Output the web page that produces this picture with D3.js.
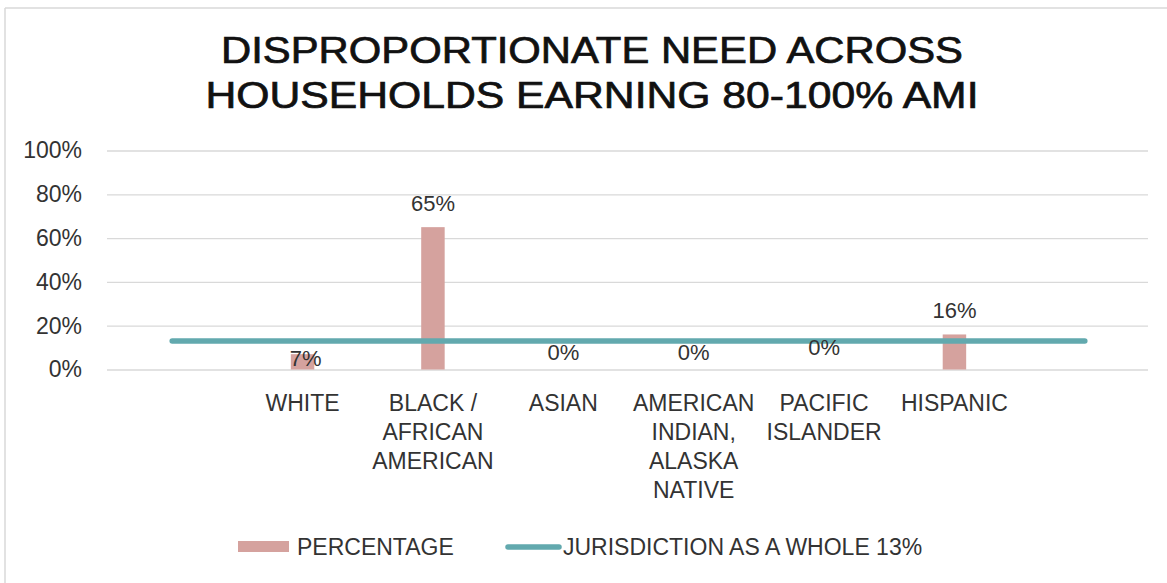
<!DOCTYPE html>
<html>
<head>
<meta charset="utf-8">
<script src="https://cdn.jsdelivr.net/npm/d3@7"></script>
<style>
  body { margin: 0; background: #fff; }
  svg { display: block; font-family: "Liberation Sans", Arial, sans-serif; }
</style>
</head>
<body>
<div id="chart"></div>
<script>
// chart data
const categories = ["WHITE", "BLACK / AFRICAN AMERICAN", "ASIAN", "AMERICAN INDIAN, ALASKA NATIVE", "PACIFIC ISLANDER", "HISPANIC"];
const categoryLines = [["WHITE"], ["BLACK /", "AFRICAN", "AMERICAN"], ["ASIAN"], ["AMERICAN", "INDIAN,", "ALASKA", "NATIVE"], ["PACIFIC", "ISLANDER"], ["HISPANIC"]];
const percentage = [0.07, 0.65, 0, 0, 0, 0.16];
const jurisdictionWhole = 0.13;
const yTicks = [0, 0.2, 0.4, 0.6, 0.8, 1];
const titleLines = ["DISPROPORTIONATE NEED ACROSS", "HOUSEHOLDS EARNING 80-100% AMI"];
const legendLabels = ["PERCENTAGE", "JURISDICTION AS A WHOLE 13%"];

const W = 1167, H = 583;
const barColor = "#d5a29e", lineColor = "#62a9ae", textColor = "#333";

// data labels were nudged around the line in the original
const labelDy = [12, -16, -9.5, -9.5, -14.5, -16];

let svg = d3.select("#chart")
    .append("svg")
    .attr("width", W)
    .attr("height", H);

// frame (only top & left edges visible)
svg.append("line").attr("x1", 5).attr("x2", W).attr("y1", 8).attr("y2", 8)
    .attr("stroke", "#d9d9d9").attr("stroke-width", 1.5);
svg.append("line").attr("x1", 5).attr("x2", 5).attr("y1", 8).attr("y2", H)
    .attr("stroke", "#d9d9d9").attr("stroke-width", 1.5);

// title
let titleWidths = [742, 773];
svg.selectAll(".title")
    .data(titleLines)
    .join("text")
    .attr("class", "title")
    .attr("x", 592)
    .attr("y", (d, i) => 63 + i * 45)
    .attr("text-anchor", "middle")
    .attr("font-size", 36)
    .attr("fill", "#111")
    .attr("stroke", "#111")
    .attr("stroke-width", 0.7)
    .attr("textLength", (d, i) => titleWidths[i])
    .attr("lengthAdjust", "spacingAndGlyphs")
    .text(d => d);

// scales: two empty slots at both ends, the line spans them
let domain = ["_start", ...categories, "_end"];
let x = d3.scaleBand()
    .domain(domain)
    .range([107, 1150])
    .padding(0);

let y = d3.scaleLinear()
    .domain([0, 1])
    .range([369.5, 150.5]);

let barW = x.step() * 0.18;
let cx = c => x(c) + x.bandwidth() / 2;

// y axis + gridlines
let yAxis = d3.axisLeft(y)
    .tickValues(yTicks)
    .tickFormat(d3.format(".0%"))
    .tickSize(-(1148 - 107))
    .tickPadding(25);

let gy = svg.append("g")
    .attr("class", "y axis")
    .attr("transform", "translate(107,0)")
    .call(yAxis);
gy.select(".domain").remove();
gy.selectAll(".tick line").attr("stroke", "#d9d9d9").attr("stroke-width", 1.3);
gy.selectAll(".tick text")
    .attr("font-size", 23)
    .attr("font-family", "Liberation Sans, Arial, sans-serif")
    .attr("fill", textColor);

// bars
svg.selectAll(".bar")
    .data(percentage)
    .join("rect")
    .attr("class", "bar")
    .attr("x", (d, i) => cx(categories[i]) - barW / 2)
    .attr("width", barW)
    .attr("y", d => y(d))
    .attr("height", d => y(0) - y(d))
    .attr("fill", barColor);

// jurisdiction line
let line = d3.line()
    .x(d => cx(d))
    .y(() => y(jurisdictionWhole));

svg.append("path")
    .datum([domain[0], domain[domain.length - 1]])
    .attr("d", line)
    .attr("fill", "none")
    .attr("stroke", lineColor)
    .attr("stroke-width", 5.5)
    .attr("stroke-linecap", "round");

// data labels
svg.selectAll(".vlabel")
    .data(percentage)
    .join("text")
    .attr("class", "vlabel")
    .attr("x", (d, i) => cx(categories[i]) + (i == 0 ? 3 : 0))
    .attr("y", (d, i) => y(d) + labelDy[i])
    .attr("text-anchor", "middle")
    .attr("font-size", 22)
    .attr("fill", textColor)
    .text(d => d3.format(".0%")(d));

// x axis labels (wrapped)
let xAxis = d3.axisBottom(x)
    .tickValues(categories)
    .tickSize(0)
    .tickFormat("");

let gx = svg.append("g")
    .attr("class", "x axis")
    .attr("transform", "translate(0,369.5)")
    .call(xAxis);
gx.select(".domain").remove();
gx.selectAll(".tick text").remove();
gx.selectAll(".tick")
    .append("text")
    .attr("text-anchor", "middle")
    .attr("font-size", 23)
    .attr("font-family", "Liberation Sans, Arial, sans-serif")
    .attr("fill", textColor)
    .selectAll("tspan")
    .data((d, i) => categoryLines[i])
    .join("tspan")
    .attr("x", 0)
    .attr("y", (d, i) => 41 + i * 29)
    .text(d => d);

// legend
let legend = svg.append("g").attr("class", "legend");
legend.append("rect")
    .attr("x", 238).attr("y", 541)
    .attr("width", 51).attr("height", 11)
    .attr("fill", barColor);
legend.append("text")
    .attr("x", 297).attr("y", 555)
    .attr("font-size", 23)
    .attr("fill", textColor)
    .text(legendLabels[0]);
legend.append("line")
    .attr("x1", 508).attr("x2", 559)
    .attr("y1", 547).attr("y2", 547)
    .attr("stroke", lineColor)
    .attr("stroke-width", 5.5)
    .attr("stroke-linecap", "round");
legend.append("text")
    .attr("x", 563).attr("y", 555)
    .attr("font-size", 23)
    .attr("fill", textColor)
    .text(legendLabels[1]);
</script>
</body>
</html>
